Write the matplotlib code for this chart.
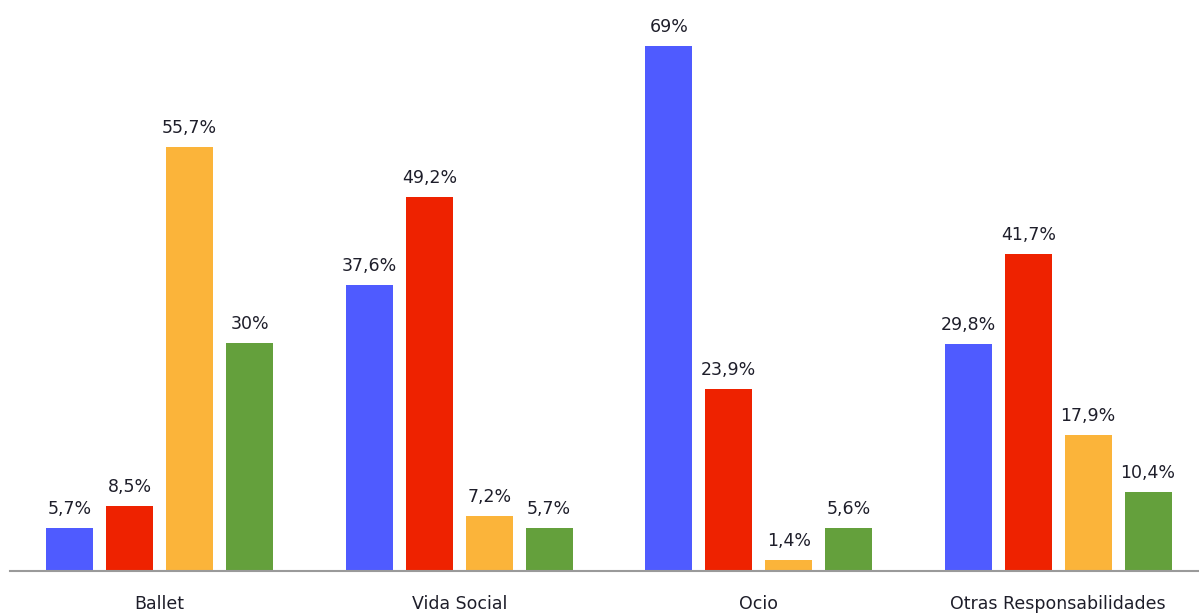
import numpy as np
import matplotlib.pyplot as plt

categorias = ["Ballet", "Vida Social", "Ocio", "Otras Responsabilidades"]
serie_azul = [5.7, 37.6, 69.0, 29.8]
serie_roja = [8.5, 49.2, 23.9, 41.7]
serie_naranja = [55.7, 7.2, 1.4, 17.9]
serie_verde = [30.0, 5.7, 5.6, 10.4]

series = [serie_azul, serie_roja, serie_naranja, serie_verde]
colores = ["#4f5bff", "#ee2200", "#fbb43a", "#64a03c"]
desplaz = [-0.3, -0.1, 0.1, 0.3]


def etiqueta(v):
    txt = ("%.1f" % v).replace(".", ",")
    if txt.endswith(",0"):
        txt = txt[:-2]
    return txt + "%"


fig = plt.figure(figsize=(11.99, 6.14), dpi=100)
ax = fig.add_axes([10 / 1199, 43 / 614, 1189 / 1199, 571 / 614])

x = np.arange(len(categorias))
for serie, color, d in zip(series, colores, desplaz):
    barras = ax.bar(x + d, serie, width=0.157, color=color, zorder=2)
    for b, v in zip(barras, serie):
        ax.text(b.get_x() + b.get_width() / 2, v + 1.3, etiqueta(v),
                ha="center", va="bottom", fontsize=12.5, color="#1e1e2a")

ax.set_xlim(-0.5, -0.5 + 1189 / 299.5)
ax.set_ylim(0, 75.03)

for s in ["top", "right", "left"]:
    ax.spines[s].set_visible(False)
ax.spines["bottom"].set_color("#9a9a9a")
ax.spines["bottom"].set_linewidth(1.5)
ax.set_yticks([])
ax.set_xticks(x)
ax.set_xticklabels(categorias, fontsize=12.5, color="#1e1e2a")
ax.tick_params(axis="x", length=0, pad=17)

fig.savefig("out.png", dpi=100)
